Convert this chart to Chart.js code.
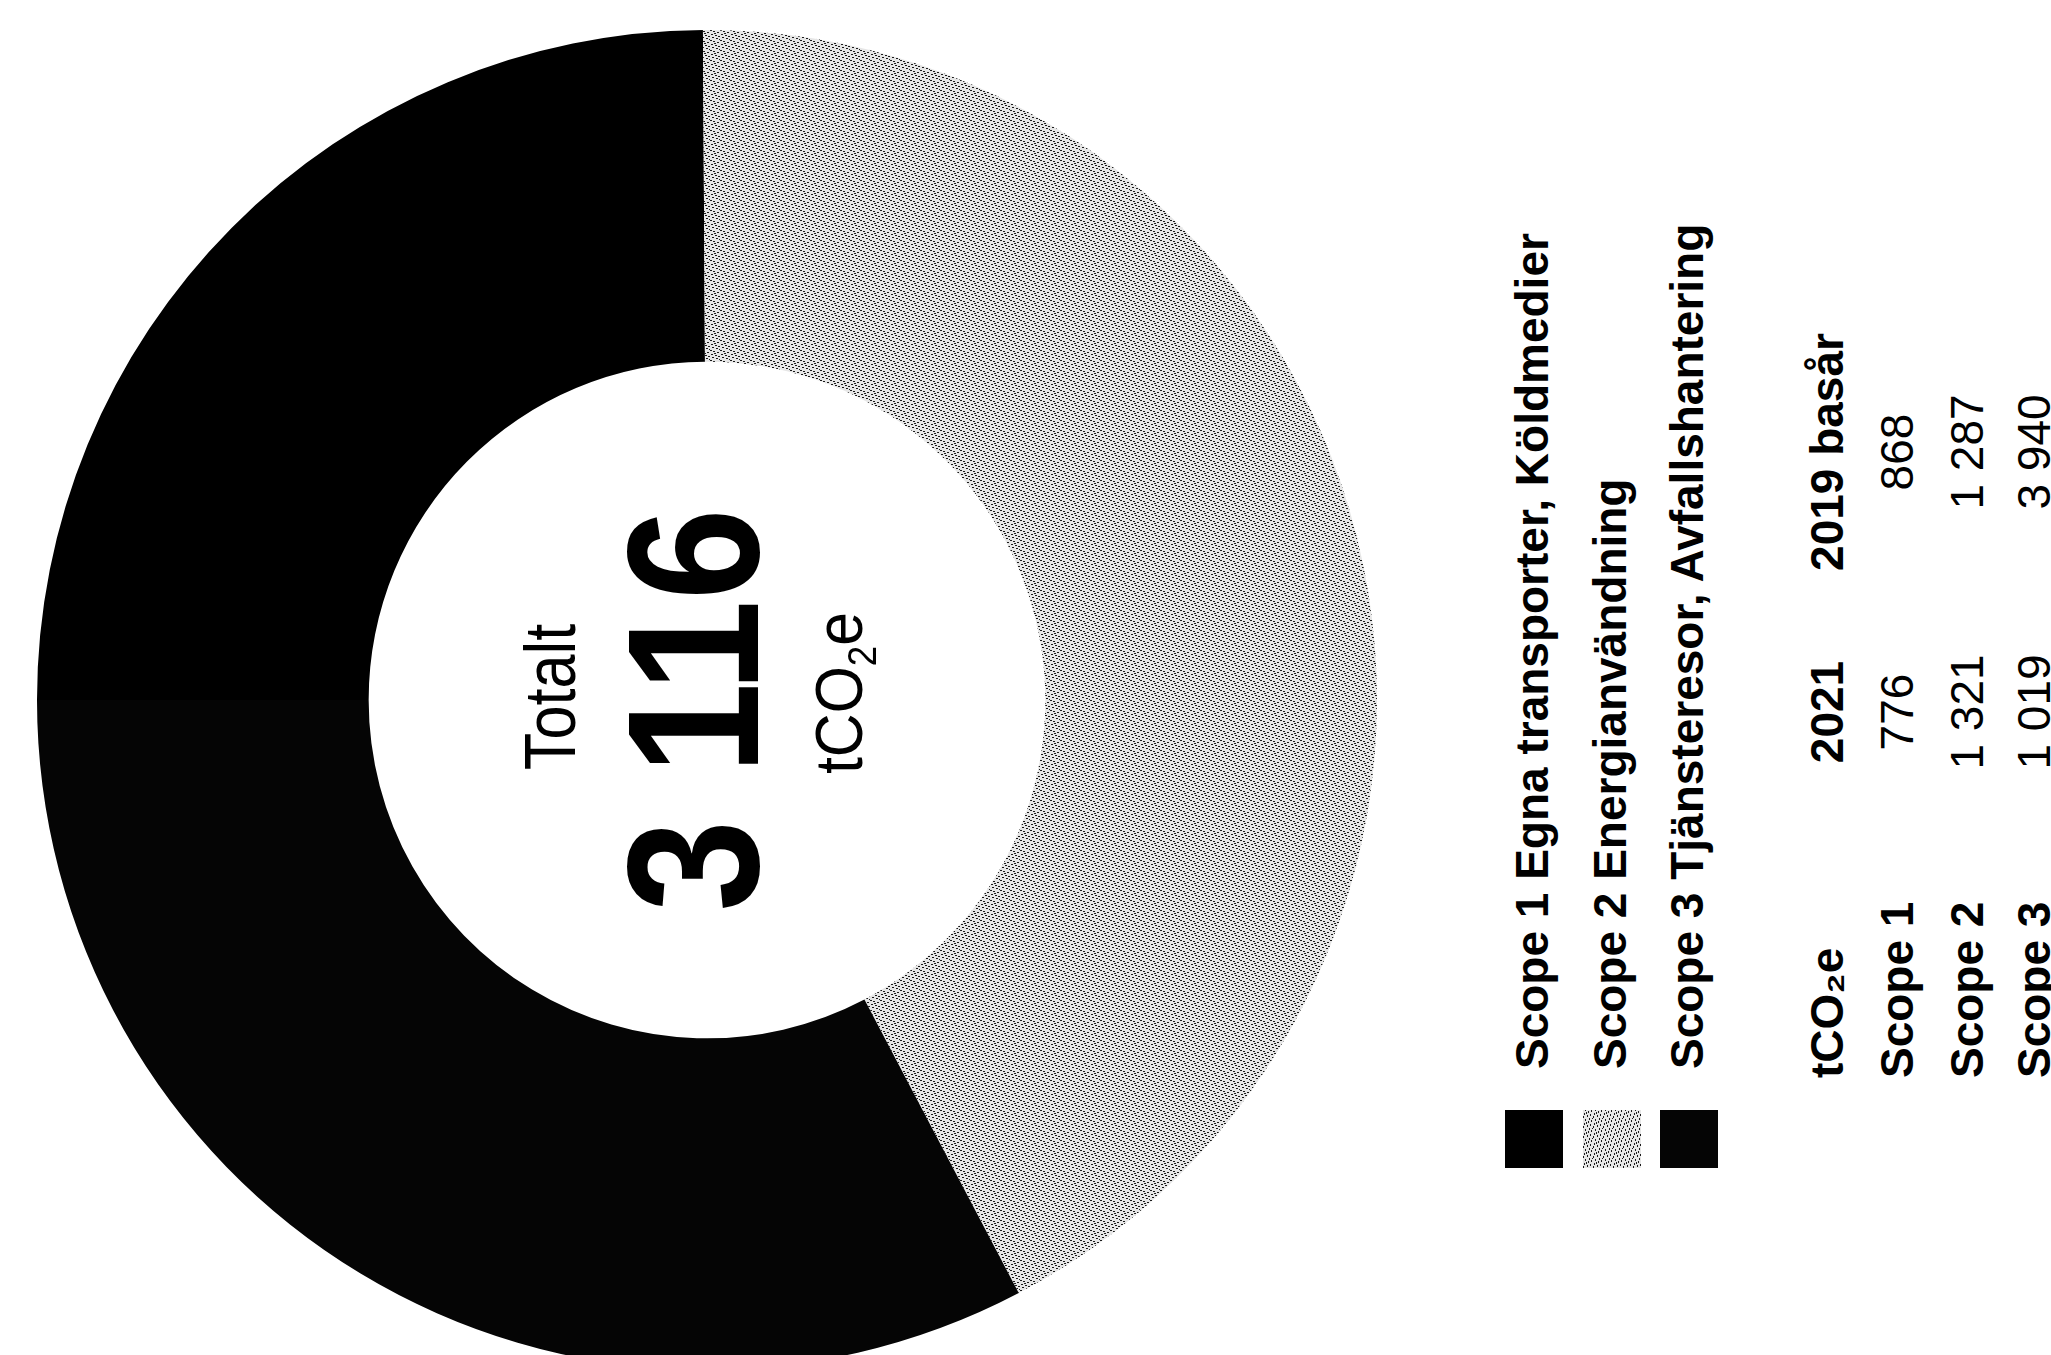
<!DOCTYPE html>
<html><head><meta charset="utf-8">
<script src="https://cdn.jsdelivr.net/npm/chart.js@4"></script>
<style>
html,body{margin:0;padding:0;background:#fff;width:2051px;height:1355px;overflow:hidden;font-family:'Liberation Sans',Arial,sans-serif;}
#chartWrap{position:absolute;left:0;top:0;width:1414px;height:1400px;}
.rot{position:absolute;transform-origin:0 0;transform:rotate(-90deg);}
.abs{position:absolute;white-space:nowrap;line-height:46px;font-size:46px;color:#000;}
.sq{position:absolute;width:58px;height:58px;}
</style></head><body>
<div id="chartWrap"><canvas id="c" width="1414" height="1400" style="width:1414px;height:1400px"></canvas></div>
<div id="legend" class="rot" style="left:1490px;top:1180px;width:980px;height:260px;"></div>
<div id="table" class="rot" style="left:1790px;top:1180px;width:980px;height:270px;"></div>
<script>
// ---- data ----
const categories = ['Scope 1 Egna transporter, Köldmedier', 'Scope 2 Energianvändning', 'Scope 3 Tjänsteresor, Avfallshantering'];
const rowLabels = ['Scope 1', 'Scope 2', 'Scope 3'];
const values2021 = [776, 1321, 1019];
const values2019 = [868, 1287, 3940];
const tableHeader = ['tCO₂e', '2021', '2019 basår'];
const centerLabels = ['Totalt', 'tCO', '2', 'e'];

// light stipple-like texture for Scope 2 (fixed sparse dither tile)
function makeStipple(){
  const t = document.createElement('canvas');
  t.width = 10; t.height = 10;
  const g = t.getContext('2d');
  g.fillStyle = '#e6e6e6'; g.fillRect(0,0,10,10);
  g.fillStyle = '#1a1a1a';
  const dots = [[0,0],[3,1],[7,2],[1,4],[5,5],[8,6],[2,7],[6,8],[9,9],[4,3]];
  dots.forEach(([x,y]) => g.fillRect(x, y, 2, 1));
  return t;
}
const tile = makeStipple();
const stipple = document.createElement('canvas').getContext('2d').createPattern(tile, 'repeat');
const sliceColors = ['#000000', stipple, '#050505'];

function fmt(n){ return String(n).replace(/\B(?=(\d{3})+(?!\d))/g, ' '); }
const total = values2021.reduce((a,b)=>a+b,0);

const centerText = {
  id: 'centerText',
  afterDraw(chart){
    const ctx = chart.ctx;
    const arc = chart.getDatasetMeta(0).data[0];
    const cx = arc.x, cy = arc.y;
    function put(text, font, bx, ty, sx){
      ctx.save();
      ctx.translate(bx, ty);
      ctx.rotate(-Math.PI/2);
      ctx.scale(sx, 1);
      ctx.font = font; ctx.textAlign = 'center'; ctx.textBaseline = 'alphabetic';
      ctx.fillStyle = '#000';
      ctx.fillText(text, 0, 0);
      ctx.restore();
    }
    put(centerLabels[0], '72px "Liberation Sans", Arial, sans-serif', cx - 132, cy - 3, 0.85);
    put(fmt(total), 'bold 188px "Liberation Sans", Arial, sans-serif', cx + 51, cy + 10, 0.877);
    ctx.save();
    ctx.translate(cx + 155, cy - 7);
    ctx.rotate(-Math.PI/2);
    ctx.scale(0.92, 1);
    ctx.fillStyle = '#000';
    ctx.textAlign = 'left'; ctx.textBaseline = 'alphabetic';
    const fBig = '66px "Liberation Sans", Arial, sans-serif';
    const fSub = '40px "Liberation Sans", Arial, sans-serif';
    ctx.font = fBig; const w1 = ctx.measureText(centerLabels[1]).width; const w3 = ctx.measureText(centerLabels[3]).width;
    ctx.font = fSub; const w2 = ctx.measureText(centerLabels[2]).width;
    let x0 = -(w1 + w2 + w3) / 2;
    ctx.font = fBig; ctx.fillText(centerLabels[1], x0, 0);
    ctx.font = fSub; ctx.fillText(centerLabels[2], x0 + w1, 14);
    ctx.font = fBig; ctx.fillText(centerLabels[3], x0 + w1 + w2, 0);
    ctx.restore();
  }
};

new Chart(document.getElementById('c'), {
  type: 'doughnut',
  data: {
    labels: categories,
    datasets: [{ data: values2021, backgroundColor: sliceColors, borderWidth: 0, hoverOffset: 0 }]
  },
  options: {
    responsive: false,
    animation: false,
    rotation: -90,
    cutout: '50.5%',
    layout: { padding: { left: 37, top: 30, right: 37, bottom: 30 } },
    plugins: { legend: { display: false }, tooltip: { enabled: false } }
  },
  plugins: [centerText]
});

// ---- legend (rotated) ----
const lg = document.getElementById('legend');
const legendRowV = [15, 93, 170];
const tileURL = tile.toDataURL();
categories.forEach((c, i) => {
  const sq = document.createElement('div');
  sq.className = 'sq';
  sq.style.left = '12px'; sq.style.top = legendRowV[i] + 'px';
  if (i === 1) sq.style.background = 'url(' + tileURL + ') repeat';
  else sq.style.background = sliceColors[i];
  lg.appendChild(sq);
  const t = document.createElement('div');
  t.className = 'abs';
  t.style.fontWeight = 'bold';
  t.style.left = '111px';
  t.style.top = (legendRowV[i] + 4) + 'px';
  t.textContent = c;
  lg.appendChild(t);
});

// ---- table (rotated) ----
const tb = document.getElementById('table');
const rowCapTop = [20, 90, 160, 227];
const col2021 = 468, col2019 = 728;
function cell(text, bold, pos, centerMode, capTop){
  const d = document.createElement('div');
  d.className = 'abs';
  d.style.fontWeight = bold ? 'bold' : 'normal';
  d.style.top = (capTop - 6) + 'px';
  d.textContent = text;
  d.style.left = pos + 'px';
  if (centerMode) d.style.transform = 'translateX(-50%)';
  tb.appendChild(d);
}
cell(tableHeader[0], true, 102, false, rowCapTop[0]);
cell(tableHeader[1], true, col2021, true, rowCapTop[0]);
cell(tableHeader[2], true, col2019, true, rowCapTop[0]);
rowLabels.forEach((r, i) => {
  cell(r, true, 102, false, rowCapTop[i+1]);
  cell(fmt(values2021[i]), false, col2021, true, rowCapTop[i+1]);
  cell(fmt(values2019[i]), false, col2019, true, rowCapTop[i+1]);
});
</script>
</body></html>
